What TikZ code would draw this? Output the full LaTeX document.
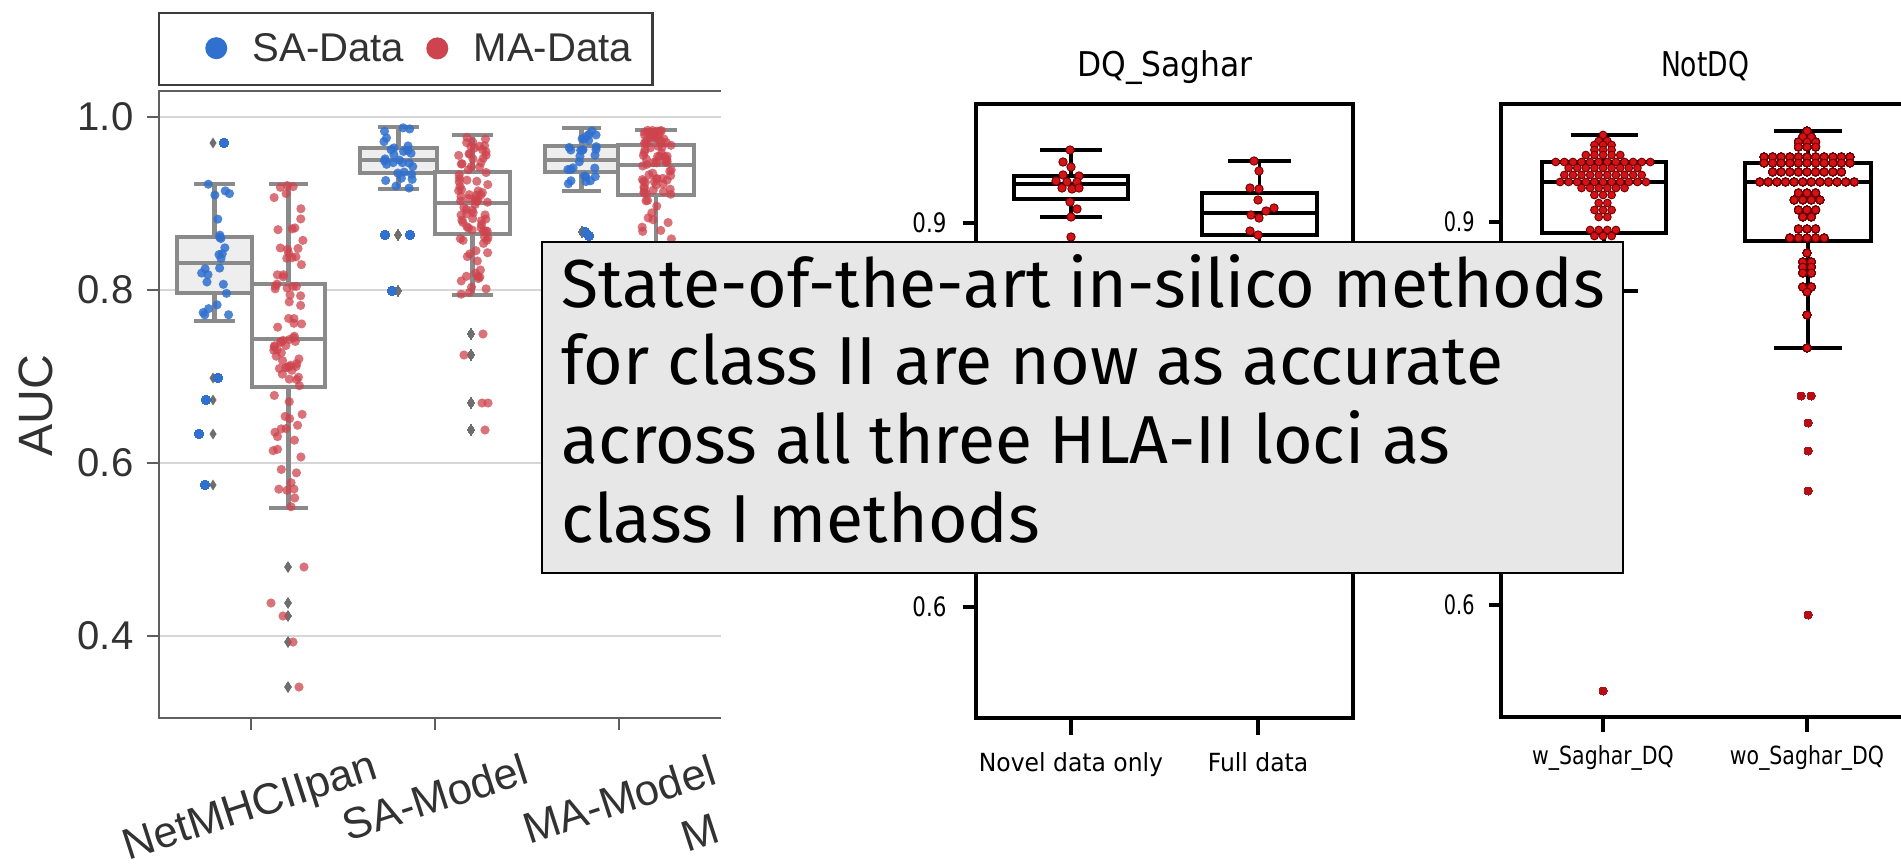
\documentclass[tikz,border=0pt]{standalone}
\usepackage{fontspec}
\setmainfont{Liberation Sans}
\newfontfamily\notefont{Fira Sans}
\newfontfamily\mplfont{DejaVu Sans}
\usetikzlibrary{positioning}

\definecolor{sablue}{RGB}{48,112,206}
\definecolor{mared}{RGB}{206,68,78}
\definecolor{boxgrey}{RGB}{138,138,138}
\definecolor{safill}{RGB}{238,238,238}
\definecolor{axgrey}{RGB}{95,95,95}
\definecolor{leggrey}{RGB}{60,60,60}
\definecolor{gridgrey}{RGB}{214,214,214}
\definecolor{txtgrey}{RGB}{50,50,50}
\definecolor{fliergrey}{RGB}{110,110,110}
\definecolor{swarmred}{RGB}{212,18,24}
\definecolor{swarmedge}{RGB}{110,0,0}
\definecolor{notefill}{RGB}{231,231,231}

% box with whiskers: [style]{x1}{x2}{top}{q3}{median}{q1}{bottom}
\newcommand{\boxplot}[8][gbox]{%
  \pgfmathsetmacro{\bxc}{(#2+#3)/2}
  \pgfmathsetmacro{\bcap}{(#3-#2)*0.27}
  \draw[#1] (#2,#5) rectangle (#3,#7);
  \draw[#1] (#2,#6) -- (#3,#6);
  \draw[#1] (\bxc,#4) -- (\bxc,#5) (\bxc,#7) -- (\bxc,#8);
  \draw[#1] (\bxc-\bcap,#4) -- (\bxc+\bcap,#4) (\bxc-\bcap,#8) -- (\bxc+\bcap,#8);
}
% jittered points: {xc}{top}{q3}{q1}{bottom}{n in box}{n per whisker}{style}
\newcommand{\stripbox}[8]{%
  \foreach \i in {1,...,#6}{
    \pgfmathsetmacro{\dotx}{#1+15*rand}
    \pgfmathsetmacro{\doty}{#3+(#4-#3)*rnd}
    \fill[#8] (\dotx,\doty) circle[radius=4.6];}
  \foreach \i in {1,...,#7}{
    \pgfmathsetmacro{\dotx}{#1+15*rand}
    \pgfmathsetmacro{\doty}{#2+(#3-#2)*rnd}
    \fill[#8] (\dotx,\doty) circle[radius=4.6];
    \pgfmathsetmacro{\dotx}{#1+15*rand}
    \pgfmathsetmacro{\doty}{#4+(#5-#4)*rnd}
    \fill[#8] (\dotx,\doty) circle[radius=4.6];}
}
\newcommand{\flier}[2]{\fill[flier] (#1,#2) ++(0,-5.5) -- ++(3.5,5.5) -- ++(-3.5,5.5) -- ++(-3.5,-5.5) -- cycle;}
% one row of a swarm: {xc}{y}{n}
\newcommand{\swarmrow}[3]{%
  \foreach \j in {1,...,#3}{
    \pgfmathsetmacro{\dotx}{#1+(\j-(#3+1)/2)*8.6}
    \filldraw[swarm] (\dotx,#2) circle[radius=3.9];}
}

\begin{document}
\begin{tikzpicture}[
  x=0.01cm, y=-0.01cm,
  gridline/.style={draw=gridgrey, line width=0.45pt},
  spine/.style={draw=axgrey, line width=0.6pt},
  gbox/.style={draw=boxgrey, line width=1.4pt},
  kbox/.style={draw=black, line width=0.95pt},
  kaxis/.style={draw=black, line width=0.9pt},
  sadot/.style={fill=sablue, fill opacity=0.85},
  madot/.style={fill=mared, fill opacity=0.75},
  flier/.style={fill=fliergrey},
  swarm/.style={fill=swarmred, draw=swarmedge, line width=0.25pt},
  seatext/.style={text=txtgrey, inner sep=0pt, font=\fontsize{11.4pt}{13pt}\selectfont},
  seaxlab/.style={seatext, rotate=18, font=\fontsize{12.4pt}{14pt}\selectfont},
  mpltick/.style={inner sep=0pt, font=\mplfont\fontsize{7.6pt}{9pt}\selectfont},
  mpltext/.style={inner sep=0pt, font=\mplfont\fontsize{7.1pt}{8.5pt}\selectfont},
  mpltitle/.style={inner sep=0pt, font=\mplfont\fontsize{9.7pt}{11pt}\selectfont},
  notetext/.style={inner sep=0pt, font=\notefont\fontsize{19.3pt}{22pt}\selectfont},
  legdot/.style={circle, inner sep=0pt, minimum size=0.22cm}
]
\fill[white] (0,0) rectangle (1901,867);
\useasboundingbox (0,0) rectangle (1901,867);
\pgfmathsetseed{4242}

% ---- left panel: AUC box plots
\begin{scope}
\clip (0,0) rectangle (721,867);
\foreach \gy in {117,290,463,636} \draw[gridline] (159,\gy) -- (721,\gy);
\draw[spine] (721,91) -- (159,91) -- (159,718) -- (721,718);
\foreach \gy/\lab [count=\k] in {117/1.0,290/0.8,463/0.6,636/0.4}{
  \draw[spine] (147,\gy) -- (159,\gy);
  \node[seatext, anchor=east] (ytick\k) at (134,\gy) {\lab};
}
\foreach \tx in {251,435,619} \draw[spine] (\tx,718) -- (\tx,730);
\node[seaxlab] (xlab1) at (251,809) {NetMHCIIpan};
\node[seaxlab] (xlab2) at (435,797) {SA-Model};
\node[seaxlab] (xlab3) at (619,799) {MA-Model};
\node[seaxlab, anchor=base west] (xlab4) at (687,853) {M};

\boxplot[gbox, fill=safill]{177}{252}{184}{237}{263}{293}{321}
\boxplot[gbox, fill=white]{252}{325}{184}{284}{339}{387}{508}
\boxplot[gbox, fill=safill]{360}{437}{127}{148}{160}{173}{189}
\boxplot[gbox, fill=white]{435}{510}{135}{172}{203}{234}{295}
\boxplot[gbox, fill=safill]{545}{618}{128}{146}{160}{172}{191}
\boxplot[gbox, fill=white]{618}{694}{130}{145}{165}{195}{320}

% outliers
\foreach \fy in {143,378,400,434,485} \flier{213}{\fy}
\foreach \fy in {567,603,616,642,687} \flier{288}{\fy}
\foreach \fy in {235,291} \flier{398}{\fy}
\foreach \fy in {334,355,403,430} \flier{471}{\fy}
\flier{582}{232}
\foreach \ox/\oy in {224/143,218/378,206/400,199/434,205/485,385/235,410/235,392/291,585/232,589/236}
  \fill[sadot] (\ox,\oy) circle[radius=4.6];
\foreach \ox/\oy in {304/567,271/603,283/616,293/642,299/687,483/334,464/355,482/403,488/403,485/430}
  \fill[madot] (\ox,\oy) circle[radius=4.6];

\stripbox{215}{184}{237}{293}{321}{12}{6}{sadot}
\stripbox{288}{184}{284}{387}{508}{44}{22}{madot}
\stripbox{398}{127}{148}{173}{189}{14}{7}{sadot}
\stripbox{473}{135}{172}{234}{295}{44}{22}{madot}
\stripbox{582}{128}{146}{172}{191}{14}{7}{sadot}
\stripbox{657}{130}{145}{195}{300}{46}{23}{madot}
\end{scope}

\node[seatext, rotate=90, font=\fontsize{13.7pt}{15pt}\selectfont] (auc) at (36,406) {AUC};

% legend
\draw[draw=leggrey, line width=0.85pt] (159,13) rectangle (652,85);
\node[seatext, anchor=base west] (sa-lab) at (252,62) {SA-Data};
\node[legdot, fill=sablue, left=0.24cm of sa-lab] (sa-dot) {};
\node[seatext, anchor=base west] (ma-lab) at (473,62) {MA-Data};
\node[legdot, fill=mared, left=0.24cm of ma-lab] (ma-dot) {};

% ---- middle panel: DQ_Saghar
\node[mpltitle, xscale=0.92, anchor=base] (dq-title) at (1165,77) {DQ\_Saghar};
\draw[kaxis] (976,104) rectangle (1353,718);
\foreach \gy/\lab [count=\k] in {223/0.9,607/0.6}{
  \draw[kaxis] (963,\gy) -- (976,\gy);
  \node[mpltick, xscale=0.8, anchor=east] (dq-ytick\k) at (947,\gy) {\lab};
}
\foreach \tx in {1071,1258} \draw[kaxis] (\tx,718) -- (\tx,735);
\node[mpltext, xscale=0.94, anchor=base] (dq-xlab1) at (1071,771) {Novel data only};
\node[mpltext, xscale=0.94, anchor=base] (dq-xlab2) at (1258,771) {Full data};
\boxplot[kbox, fill=white]{1014}{1128}{150}{176}{184}{199}{217}
\boxplot[kbox, fill=white]{1202}{1317}{161}{193}{213}{235}{275}
\foreach \ox/\oy in {1070/150,1063/162,1071/167,1063/175,1079/176,1056/181,1067/182,1077/182,
  1062/188,1072/189,1079/188,1070/202,1077/209,1071/217,1071/237,
  1254/161,1259/171,1250/188,1259/189,1258/200,1266/211,1274/208,1251/215,1259/218,1250/231,1258/235}
  \filldraw[swarm] (\ox,\oy) circle[radius=4.2];

% ---- right panel: NotDQ
\node[mpltitle, xscale=0.78, anchor=base] (notdq-title) at (1705,77) {NotDQ};
\draw[kaxis] (1901,104) -- (1501,104) -- (1501,717) -- (1901,717);
\foreach \gy/\lab [count=\k] in {222/0.9,605/0.6}{
  \draw[kaxis] (1489,\gy) -- (1501,\gy);
  \node[mpltick, xscale=0.72, anchor=east] (nd-ytick\k) at (1475,\gy) {\lab};
}
\foreach \tx in {1603,1807} \draw[kaxis] (\tx,717) -- (\tx,732);
\node[mpltext, xscale=0.82, anchor=base] (nd-xlab1) at (1603,764) {w\_Saghar\_DQ};
\node[mpltext, xscale=0.82, anchor=base] (nd-xlab2) at (1807,764) {wo\_Saghar\_DQ};
\boxplot[kbox, fill=white]{1542}{1666}{135}{162}{182}{233}{291}
\boxplot[kbox, fill=white]{1745}{1871}{131}{163}{182}{241}{348}
\foreach \ry/\rn in {135/1,141/2,145/3,150/3,155/5,162/12,168/9,175/10,182/11,188/6,
  195/3,203/2,210/3,217/2,230/4,236/3}
  \swarmrow{1603}{\ry}{\rn}
\foreach \ry/\rn in {131/1,137/2,142/3,147/3,157/11,163/11,172/9,182/12,193/3,200/4,
  210/3,217/2,229/3,238/5,253/1,262/2,267/2,273/2,287/2,292/1,315/1,348/1}
  \swarmrow{1807}{\ry}{\rn}
\foreach \ox/\oy in {1603/691,1801/396,1811/396,1808/423,1808/451,1808/491,1808/615}
  \fill[swarmred!85!black] (\ox,\oy) circle[radius=4];

% ---- note box on top
\draw[fill=notefill, draw=black, line width=0.6pt] (542,242) rectangle (1623,573);
\foreach \ln/\yb [count=\k] in {State-of-the-art in-silico methods/307,
  for class II are now as accurate/384, across all three HLA-II loci as/463,
  class I methods/542}
  \node[notetext, anchor=base west] (note\k) at (561,\yb) {\ln};
\end{tikzpicture}
\end{document}
